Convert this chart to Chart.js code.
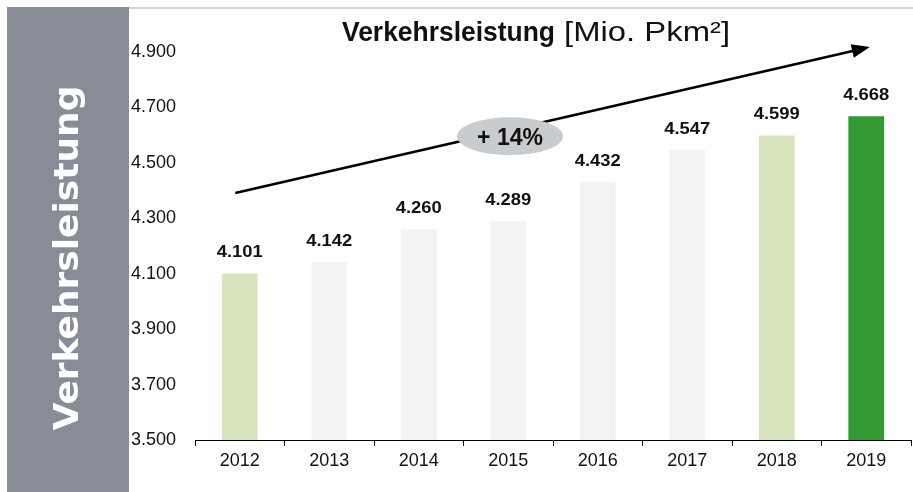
<!DOCTYPE html>
<html>
<head>
<meta charset="utf-8">
<script src="https://cdn.jsdelivr.net/npm/chart.js@4"></script>
<style>
  html, body { margin: 0; padding: 0; background: #fff; }
  #wrap { width: 913px; height: 492px; position: relative; }
</style>
</head>
<body>
<div id="wrap"><canvas id="chart" width="913" height="492"></canvas></div>
<script>
// Daten
const years = ["2012", "2013", "2014", "2015", "2016", "2017", "2018", "2019"];
const values = [4101, 4142, 4260, 4289, 4432, 4547, 4599, 4668];
const barColors = ["#d8e4bc", "#f2f3f5", "#f2f3f5", "#f2f3f5", "#f2f3f5", "#f2f3f5", "#d8e4bc", "#339933"];
const yTicks = [3500, 3700, 3900, 4100, 4300, 4500, 4700, 4900];
const titleBold = "Verkehrsleistung";
const titleUnit = " [Mio. Pkm²]";
const sideLabel = "Verkehrsleistung";
const growthLabel = "+ 14%";
// Trendpfeil in Datenkoordinaten (Kategorie-Index, Wert)
const arrowFrom = [-0.05, 4391];
const arrowTo = [7.04, 4918];
const bubbleAt = [3.02, 4596];

// Zahlen im deutschen Format
function fmt(v) {
  return (v / 1000).toFixed(3);
}

// Text horizontal auf eine Breite stauchen/strecken
function fitText(ctx, txt, x, y, width) {
  const w = ctx.measureText(txt).width;
  ctx.save();
  ctx.translate(x, y);
  ctx.scale(width / w, 1);
  ctx.fillText(txt, 0, 0);
  ctx.restore();
}

const FONT = "'Liberation Sans', Arial, sans-serif";

// Hintergrund, Seitenleiste, Titel
const framePlugin = {
  id: "frame",
  beforeDraw(chart) {
    const ctx = chart.ctx;
    ctx.save();
    ctx.fillStyle = "#fff";
    ctx.fillRect(0, 0, chart.width, chart.height);
    // graue Linie oben
    ctx.strokeStyle = "#d4d4d4";
    ctx.lineWidth = 2;
    ctx.beginPath();
    ctx.moveTo(7, 8);
    ctx.lineTo(chart.width, 8);
    ctx.stroke();
    // Seitenleiste
    ctx.fillStyle = "#878c96";
    ctx.fillRect(7, 7, 122, chart.height - 7);
    ctx.translate(78, 258);
    ctx.rotate(-Math.PI / 2);
    ctx.fillStyle = "#fff";
    ctx.font = "bold 33px 'DejaVu Sans', sans-serif";
    const w = ctx.measureText(sideLabel).width;
    ctx.scale(345 / w, 1);
    ctx.textAlign = "center";
    ctx.textBaseline = "alphabetic";
    ctx.fillText(sideLabel, 0, 0);
    ctx.restore();

    // Titel
    ctx.save();
    ctx.fillStyle = "#111";
    ctx.textBaseline = "alphabetic";
    ctx.textAlign = "left";
    ctx.font = "bold 28px " + FONT;
    fitText(ctx, titleBold, 342, 41, 213);
    ctx.font = "28px " + FONT;
    fitText(ctx, titleUnit, 555, 41, 175);
    ctx.restore();
  },
  afterDatasetsDraw(chart) {
    const ctx = chart.ctx;
    const xs = chart.scales.x, ys = chart.scales.y;
    const meta = chart.getDatasetMeta(0);
    // Werte über den Balken
    ctx.save();
    ctx.fillStyle = "#111";
    ctx.font = "bold 16px " + FONT;
    ctx.textAlign = "left";
    ctx.textBaseline = "alphabetic";
    meta.data.forEach((bar, i) => {
      fitText(ctx, fmt(values[i]), bar.x - 23, bar.y - 16, 46);
    });
    ctx.restore();

    // Pfeil
    const x1 = xs.getPixelForValue(arrowFrom[0]), y1 = ys.getPixelForValue(arrowFrom[1]);
    const x2 = xs.getPixelForValue(arrowTo[0]), y2 = ys.getPixelForValue(arrowTo[1]);
    const ang = Math.atan2(y2 - y1, x2 - x1);
    ctx.save();
    ctx.strokeStyle = "#000";
    ctx.fillStyle = "#000";
    ctx.lineWidth = 2.5;
    ctx.beginPath();
    ctx.moveTo(x1, y1);
    ctx.lineTo(x2 - 12 * Math.cos(ang), y2 - 12 * Math.sin(ang));
    ctx.stroke();
    ctx.translate(x2, y2);
    ctx.rotate(ang);
    ctx.beginPath();
    ctx.moveTo(0, 0);
    ctx.lineTo(-18, -7);
    ctx.lineTo(-18, 7);
    ctx.closePath();
    ctx.fill();
    ctx.restore();

    // Ellipse mit Wachstum
    const bx = xs.getPixelForValue(bubbleAt[0]), by = ys.getPixelForValue(bubbleAt[1]);
    ctx.save();
    ctx.fillStyle = "#c9cccf";
    ctx.beginPath();
    ctx.ellipse(bx, by, 53, 19, 0, 0, Math.PI * 2);
    ctx.fill();
    ctx.fillStyle = "#111";
    ctx.font = "bold 24px " + FONT;
    ctx.textAlign = "left";
    ctx.textBaseline = "alphabetic";
    fitText(ctx, growthLabel, bx - 33, by + 9, 66);
    ctx.restore();
  }
};

const ctx = document.getElementById("chart");
new Chart(ctx, {
  type: "bar",
  data: {
    labels: years,
    datasets: [{
      data: values,
      backgroundColor: barColors,
      borderWidth: 0,
      barPercentage: 0.4,
      categoryPercentage: 1.0
    }]
  },
  options: {
    responsive: false,
    animation: false,
    devicePixelRatio: 1,
    layout: { padding: { left: 131, right: 2, top: 52, bottom: 0 } },
    plugins: {
      legend: { display: false },
      tooltip: { enabled: false },
      title: { display: false }
    },
    scales: {
      x: {
        border: { display: true, color: "#000", width: 1 },
        grid: { drawOnChartArea: false, drawTicks: true, tickLength: 6, color: "#000", offset: true },
        ticks: {
          color: "#111",
          font: { family: FONT, size: 18 },
          padding: 4
        },
        afterFit(scale) { scale.height = 52; }
      },
      y: {
        min: 3500,
        max: 4900,
        afterBuildTicks(scale) { scale.ticks = yTicks.map(v => ({ value: v })); },
        border: { display: false },
        grid: { display: false },
        ticks: {
          color: "#111",
          crossAlign: "far",
          font: { family: FONT, size: 18 },
          callback: v => fmt(v)
        },
        afterFit(scale) { scale.width = 64; }
      }
    }
  },
  plugins: [framePlugin]
});
</script>
</body>
</html>
